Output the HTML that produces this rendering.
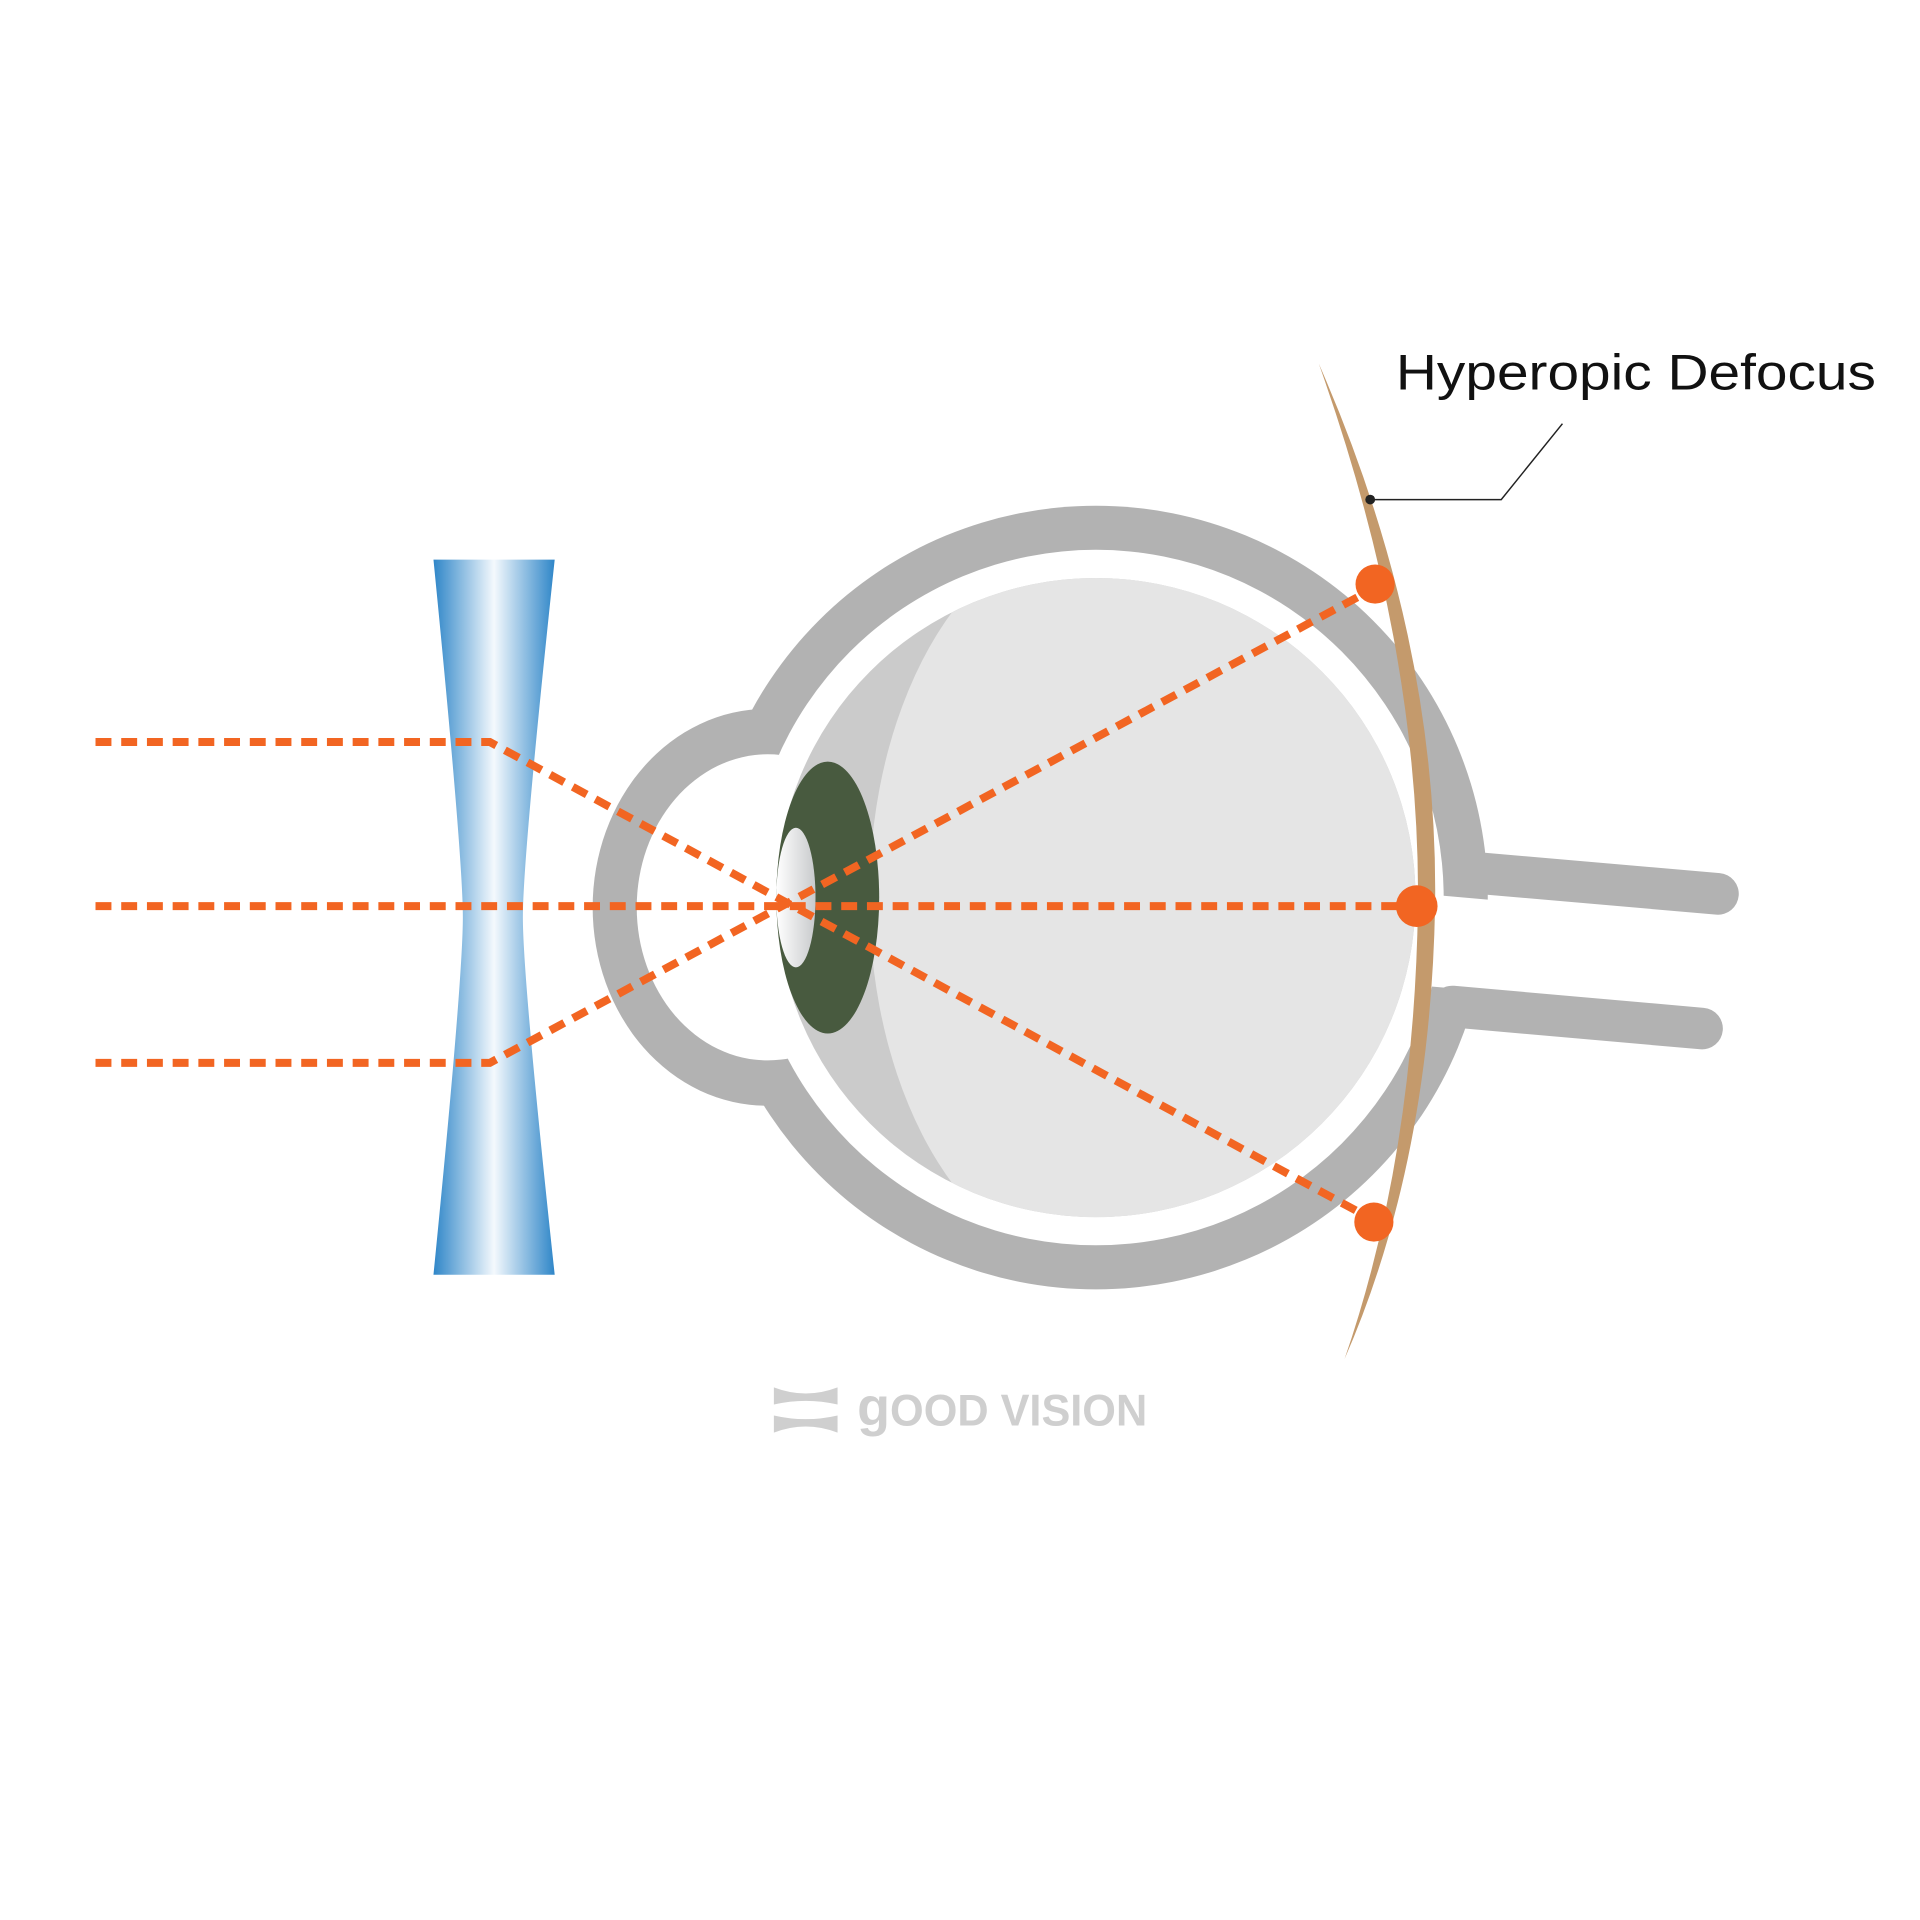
<!DOCTYPE html>
<html><head><style>html,body{margin:0;padding:0;background:#fff}svg{display:block}</style></head>
<body>
<svg width="1920" height="1920" viewBox="0 0 1568 1568" xmlns="http://www.w3.org/2000/svg">
<defs>
<linearGradient id="lg" x1="0" x2="1" y1="0" y2="0">
<stop offset="0" stop-color="#2f86c8"/><stop offset="0.5" stop-color="#f4f9fd"/><stop offset="1" stop-color="#2f86c8"/>
</linearGradient>
<linearGradient id="pg" x1="0" x2="1">
<stop offset="0" stop-color="#ffffff"/><stop offset="1" stop-color="#c8cacc"/>
</linearGradient>
<clipPath id="vc"><circle cx="895" cy="733" r="261"/></clipPath>
</defs>
<rect width="1568" height="1568" fill="#fff"/>
<ellipse cx="626" cy="741" rx="142" ry="162" fill="#b2b2b2"/>
<circle cx="895" cy="733" r="320" fill="#b2b2b2"/>
<polygon points="1150,729 1230,736 1230,811 1150,804" fill="#fff"/>
<line x1="1196" y1="712" x2="1403" y2="730" stroke="#b2b2b2" stroke-width="34" stroke-linecap="round"/>
<line x1="1186" y1="822" x2="1390" y2="840" stroke="#b2b2b2" stroke-width="34" stroke-linecap="round"/>
<ellipse cx="627" cy="741" rx="107" ry="125" fill="#fff"/>
<circle cx="895" cy="733" r="284" fill="#fff"/>
<circle cx="895" cy="733" r="261" fill="#cbcbcb"/>
<ellipse cx="900" cy="733" rx="190" ry="305" fill="#e5e5e5" clip-path="url(#vc)"/>
<rect x="900" y="400" width="300" height="700" fill="#e5e5e5" clip-path="url(#vc)"/>
<ellipse cx="676" cy="733" rx="42" ry="111" fill="#485a3f"/>
<ellipse cx="650" cy="733" rx="16" ry="57" fill="url(#pg)"/>
<path d="M354,457 L453,457 Q427,700 427,749 Q427,800 453,1041 L354,1041 Q378,800 378,749 Q378,700 354,457 Z" fill="url(#lg)"/>
<path d="M1077,297 Q1175,520 1172,740 Q1168,950 1098,1110 Q1155,945 1158,740 Q1160,530 1077,297 Z" fill="#c49a6c"/>
<g stroke="#f26522" stroke-width="6.5" fill="none" stroke-dasharray="13 8">
<polyline points="78,606 400,606 1110,990"/>
<polyline points="78,868 400,868 1110,487"/>
<line x1="78" y1="740" x2="1145" y2="740"/>
</g>
<g fill="#f26522">
<circle cx="1123" cy="477" r="16"/>
<circle cx="1157" cy="740" r="17"/>
<circle cx="1122" cy="998" r="16"/>
</g>
<polyline points="1276,346 1226,408 1119,408" fill="none" stroke="#222" stroke-width="1.2"/>
<circle cx="1119" cy="408" r="4" fill="#222"/>
<text x="1140" y="318" font-family="Liberation Sans, sans-serif" font-size="41" fill="#111" textLength="392" lengthAdjust="spacingAndGlyphs">Hyperopic Defocus</text>
<path d="M632,1133 Q658,1143 684,1133 L684,1147 Q658,1141 632,1147 Z" fill="#cfcfcf"/>
<path d="M632,1170 Q658,1160 684,1170 L684,1156 Q658,1162 632,1156 Z" fill="#cfcfcf"/>
<text x="700" y="1164" font-family="Liberation Sans, sans-serif" font-weight="bold" font-size="36" fill="#cfcfcf"><tspan font-size="44">g</tspan><tspan textLength="210" lengthAdjust="spacingAndGlyphs">OOD VISION</tspan></text>
</svg>
</body></html>
